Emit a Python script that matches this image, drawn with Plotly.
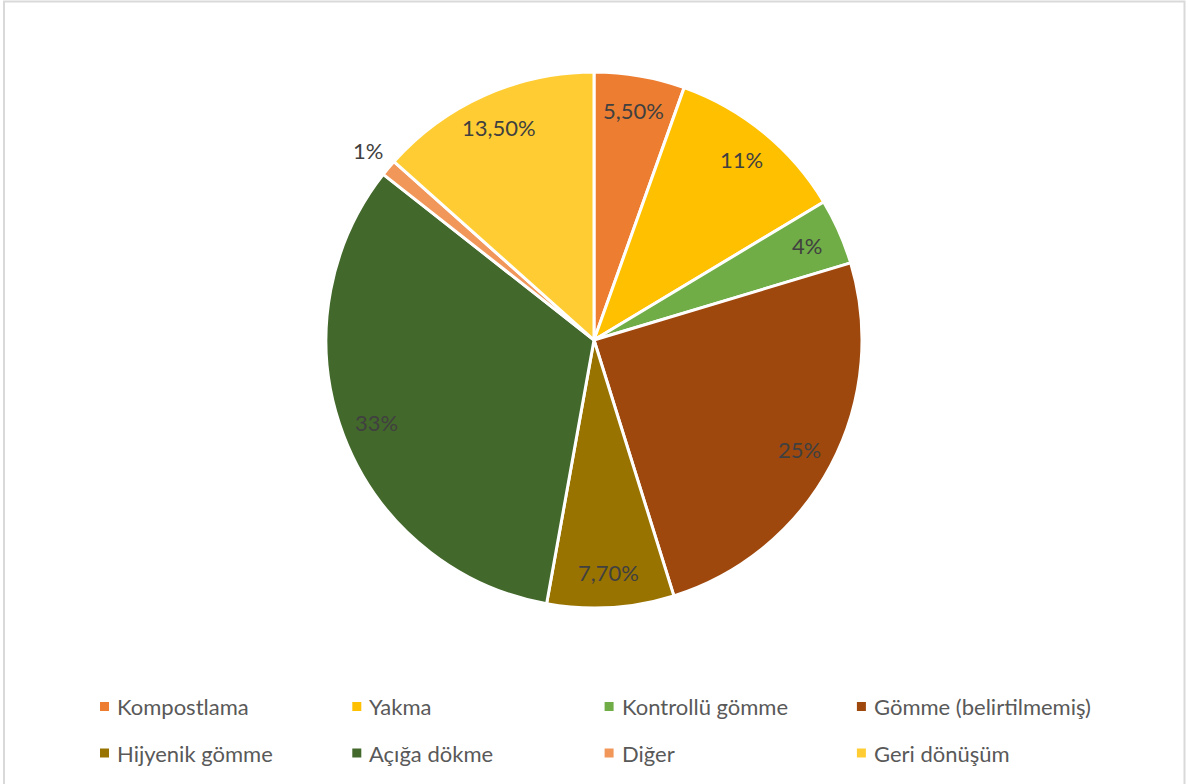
import math
import plotly.graph_objects as go

# Waste treatment shares (%)
categories = [
    "Kompostlama", "Yakma", "Kontrollü gömme", "Gömme (belirtilmemiş)",
    "Hijyenik gömme", "Açığa dökme", "Diğer", "Geri dönüşüm",
]
shares = [5.5, 11, 4, 25, 7.7, 33, 1, 13.5]
share_labels = ["5,50%", "11%", "4%", "25%", "7,70%", "33%", "1%", "13,50%"]

colors = ["#ED7D31", "#FFC000", "#70AD47", "#9E480E",
          "#997300", "#43682B", "#F1975A", "#FFCD33"]

# Canvas and plot-area geometry (px)
W, H = 1188, 784
M_L, M_R, M_T, M_B = 0, 0, 72, 176
PW, PH = W - M_L - M_R, H - M_T - M_B
CX, CY = M_L + PW / 2, M_T + PH / 2
R = min(PW, PH) / 2

FONT = "Lato, 'Open Sans', Arial, sans-serif"


def to_paper(px, py):
    return (px - M_L) / PW, (M_T + PH - py) / PH


fig = go.Figure(go.Pie(
    labels=categories,
    values=shares,
    text=share_labels,
    sort=False,
    direction="clockwise",
    rotation=0,
    marker=dict(colors=colors, line=dict(color="white", width=3)),
    textinfo="none",
    hovertemplate="%{label}: %{text}<extra></extra>",
    showlegend=False,
))

annotations = []
shapes = []

# Data labels: placed along each slice's mid-angle
total = sum(shares)
outside = {"Diğer"}
cum = 0.0
for name, v, lab in zip(categories, shares, share_labels):
    mid = (cum + v / 2) / total * 2 * math.pi
    cum += v
    rr = R * (1.10 if name in outside else 0.87)
    px = CX + rr * math.sin(mid)
    py = CY - rr * math.cos(mid)
    xp, yp = to_paper(px, py)
    annotations.append(dict(
        x=xp, y=yp, xref="paper", yref="paper", text=lab, showarrow=False,
        xanchor="center", yanchor="middle",
        font=dict(family=FONT, size=22, color="#404040"),
    ))

# Legend: 4 columns x 2 rows below the pie
COL_X0, COL_STEP = 100, 252.3
ROW_Y = [706.5, 753]
SW = 9
for i, (name, c) in enumerate(zip(categories, colors)):
    col, row = i % 4, i // 4
    lx = COL_X0 + col * COL_STEP
    ly = ROW_Y[row]
    x0, y0 = to_paper(lx, ly + SW / 2)
    x1, y1 = to_paper(lx + SW, ly - SW / 2)
    shapes.append(dict(type="rect", xref="paper", yref="paper",
                       x0=x0, y0=y0, x1=x1, y1=y1,
                       fillcolor=c, line=dict(width=0)))
    tx, ty = to_paper(lx + 15, ly)
    annotations.append(dict(
        x=tx, y=ty, xref="paper", yref="paper", text=name, showarrow=False,
        xanchor="left", yanchor="middle",
        font=dict(family=FONT, size=22, color="#595959"),
    ))

# Chart-area border
bx0, by1 = to_paper(4, 1.5)
bx1, by0 = to_paper(1184.5, 800)
shapes.append(dict(type="rect", xref="paper", yref="paper",
                   x0=bx0, y0=by0, x1=bx1, y1=by1,
                   line=dict(color="#D9D9D9", width=2), fillcolor="rgba(0,0,0,0)"))

fig.update_layout(
    width=W, height=H,
    margin=dict(l=M_L, r=M_R, t=M_T, b=M_B),
    paper_bgcolor="white", plot_bgcolor="white",
    annotations=annotations,
    shapes=shapes,
    font=dict(family=FONT),
)

fig.write_html("out.html")
